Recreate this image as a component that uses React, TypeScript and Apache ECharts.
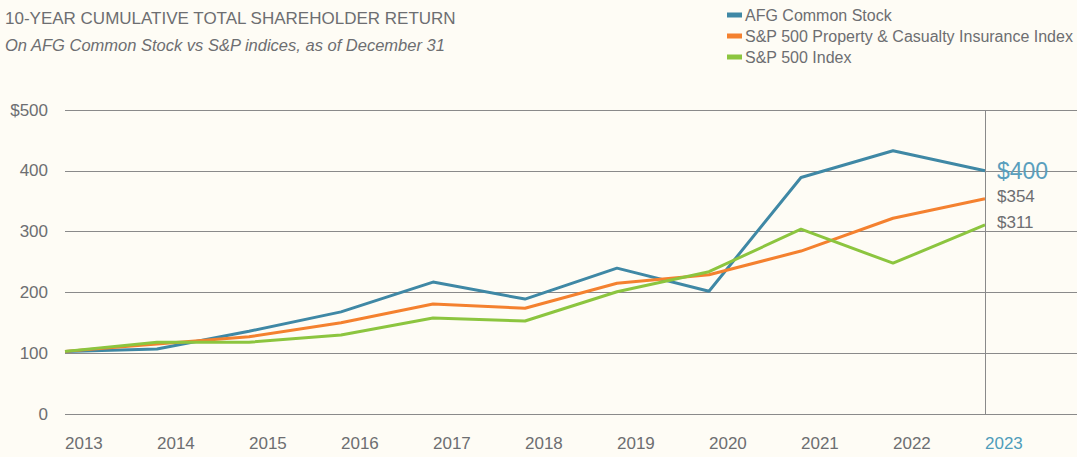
import React, { useEffect, useRef } from "react";
import * as echarts from "echarts";

const years = ["2013", "2014", "2015", "2016", "2017", "2018", "2019", "2020", "2021", "2022", "2023", ""];
const afg = [103, 107, 136, 168, 217, 189, 240, 202, 389, 433, 400];
const pcIndex = [103, 115, 127, 150, 181, 174, 215, 229, 268, 322, 354];
const spIndex = [103, 118, 118, 130, 158, 153, 201, 234, 304, 248, 311];
const yTicks = [0, 100, 200, 300, 400, 500];

const BLUE = "#3f88a5";
const ORANGE = "#f4812f";
const GREEN = "#8cc53f";
const GREY = "#6d6e71";
const FONT = "Liberation Sans, Arial, sans-serif";

export default function App() {
  const ref = useRef<HTMLDivElement>(null);
  useEffect(() => {
    const chart = echarts.init(ref.current!, null, { renderer: "svg" });
    const mkSeries = (name: string, data: number[], color: string, labelStyle: any) => ({
      name,
      type: "line",
      data,
      symbol: "none",
      lineStyle: { color, width: 3 },
      itemStyle: { color },
      endLabel: {
        show: true,
        distance: 12,
        formatter: (p: any) => "$" + p.value,
        ...labelStyle,
      },
    });
    chart.setOption({
      animation: false,
      backgroundColor: "#fefcf5",
      textStyle: { fontFamily: FONT },
      title: {
        text: "10-YEAR CUMULATIVE TOTAL SHAREHOLDER RETURN",
        subtext: "On AFG Common Stock vs S&P indices, as of December 31",
        left: 0,
        top: 5,
        itemGap: 9,
        textStyle: { fontSize: 17, fontWeight: "normal", color: GREY, fontFamily: FONT },
        subtextStyle: { fontSize: 16.5, fontStyle: "italic", color: GREY, fontFamily: FONT },
      },
      legend: {
        orient: "vertical",
        left: 727,
        top: 7,
        padding: 0,
        icon: "rect",
        itemWidth: 15,
        itemHeight: 5,
        itemGap: 5,
        textStyle: { fontSize: 16, color: GREY, fontFamily: FONT, lineHeight: 16, padding: [0, 0, 0, -2] },
        data: ["AFG Common Stock", "S&P 500 Property & Casualty Insurance Index", "S&P 500 Index"],
      },
      grid: { left: 65, right: 0, top: 110, bottom: 43, outerBoundsMode: "none" },
      xAxis: {
        type: "category",
        data: years,
        boundaryGap: false,
        axisLine: { show: false },
        axisTick: { show: false },
        axisLabel: {
          align: "left",
          margin: 21,
          fontSize: 17,
          fontFamily: FONT,
          interval: 0,
          color: (v: string) => (v === "2023" ? "#4f9dbb" : GREY),
        },
      },
      yAxis: {
        type: "value",
        min: yTicks[0],
        max: yTicks[yTicks.length - 1],
        interval: 100,
        axisLine: { show: false },
        axisTick: { show: false },
        axisLabel: {
          margin: 17,
          fontSize: 17,
          fontFamily: FONT,
          color: GREY,
          formatter: (v: number) => (v === 500 ? "$500" : String(v)),
        },
        splitLine: { lineStyle: { color: "#8a8a8a", width: 1 } },
      },
      series: [
        {
          ...mkSeries("AFG Common Stock", afg, BLUE, {
            color: "#5a9fbd",
            fontSize: 23,
            fontFamily: FONT,
          }),
          markLine: {
            silent: true,
            symbol: "none",
            label: { show: false },
            lineStyle: { color: "#8a8a8a", width: 1, type: "solid" },
            data: [{ xAxis: "2023" }],
          },
          z: 3,
        },
        mkSeries("S&P 500 Property & Casualty Insurance Index", pcIndex, ORANGE, {
          color: GREY,
          fontSize: 17,
          fontFamily: FONT,
          offset: [0, -2],
        }),
        mkSeries("S&P 500 Index", spIndex, GREEN, {
          color: GREY,
          fontSize: 17,
          fontFamily: FONT,
          offset: [0, -2],
        }),
      ],
    });
    return () => chart.dispose();
  }, []);
  return (
    <div
      ref={ref}
      style={{ position: "fixed", left: 0, top: 0, width: 1077, height: 457, background: "#fefcf5" }}
    />
  );
}
